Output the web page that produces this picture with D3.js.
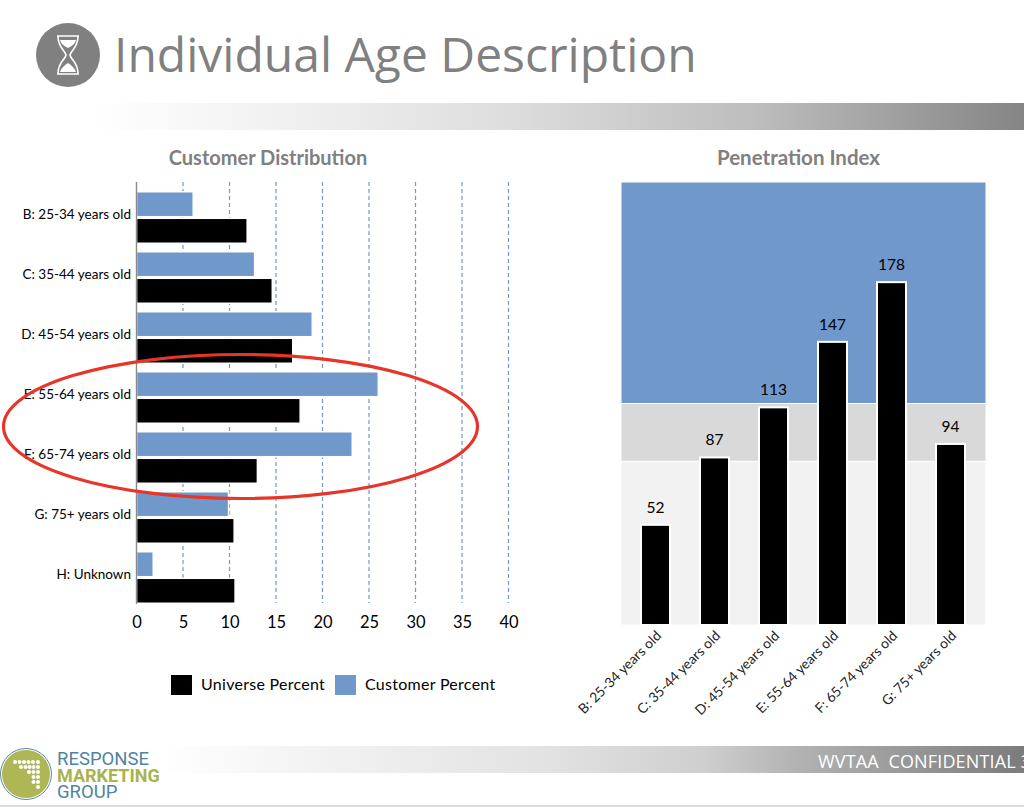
<!DOCTYPE html>
<html>
<head>
<meta charset="utf-8">
<script src="https://d3js.org/d3.v7.min.js"></script>
<style>
    html, body { margin: 0; padding: 0; background: #fff; }
    svg { display: block; }
    text { font-family: Lato, "Open Sans", sans-serif; }
</style>
</head>
<body>
<svg id="slide" width="1024" height="807"></svg>
<script>
// customer distribution
var distCategories = ["B: 25-34 years old", "C: 35-44 years old", "D: 45-54 years old", "E: 55-64 years old", "F: 65-74 years old", "G: 75+ years old", "H: Unknown"];
var customerPercent = [6.1, 12.7, 18.9, 26.0, 23.2, 9.9, 1.8];
var universePercent = [11.9, 14.6, 16.8, 17.6, 13.0, 10.5, 10.6];
var distTicks = [0, 5, 10, 15, 20, 25, 30, 35, 40];

// penetration index
var indexCategories = ["B: 25-34 years old", "C: 35-44 years old", "D: 45-54 years old", "E: 55-64 years old", "F: 65-74 years old", "G: 75+ years old"];
var indexValues = [52, 87, 113, 147, 178, 94];
var indexBandTops = [85, 115, 230];

var blue = "#7098cb";
var svg = d3.select("#slide");
var defs = svg.append("defs");

function grayGradient(id, stops) {
    var g = defs.append("linearGradient").attr("id", id);
    stops.forEach(function (s) {
        g.append("stop").attr("offset", s[0]).attr("stop-color", s[1]);
    });
}
grayGradient("headerBar", [[0, "#ffffff"], [0.27, "#ececec"], [0.44, "#dedede"], [0.72, "#bcbcbc"], [1, "#858585"]]);
grayGradient("footerBar", [[0, "#ffffff"], [0.16, "#f4f4f4"], [0.45, "#e2e2e2"], [0.63, "#cfcfcf"], [0.74, "#b2b2b2"], [1, "#7c7c7c"]]);

// slide header
svg.append("circle").attr("cx", 68).attr("cy", 55).attr("r", 32).attr("fill", "#808080");
var glass = svg.append("g").attr("fill", "none").attr("stroke", "#fff").attr("stroke-width", 1.6);
glass.append("path").attr("d", "M57 36 H79 M57 74 H79 M58 36 C58 48 65 50 66 55 C65 60 58 62 58 74 M78 36 C78 48 71 50 70 55 C71 60 78 62 78 74");
svg.append("path").attr("d", "M60 40 H76 C75 44 72 46 68 48 C64 46 61 44 60 40 Z M60 72 C62 67 65 65 68 63 C71 65 74 67 76 72 Z").attr("fill", "#fff");

svg.append("text").attr("x", 114).attr("y", 72)
    .style("font-family", "'Open Sans'").style("font-size", "48px").attr("fill", "#808080")
    .text("Individual Age Description");

svg.append("rect").attr("x", 92).attr("y", 103).attr("width", 932).attr("height", 27).attr("fill", "url(#headerBar)");

// left chart
var distX = d3.scaleLinear().domain([0, 40]).range([136.5, 508.5]);
var distY = d3.scaleBand().domain(distCategories).range([187.5, 607.5]);
var innerBand = d3.scaleBand().domain(["customer", "universe"]).range([0, distY.bandwidth()]).paddingInner(0.06).paddingOuter(0.16);

svg.append("text").attr("x", 268).attr("y", 165).attr("text-anchor", "middle")
    .style("font-size", "20px").style("font-weight", 700).attr("fill", "#808080")
    .text("Customer Distribution");

svg.append("g").selectAll("line")
    .data(distTicks.slice(1))
    .enter().append("line")
    .attr("x1", function (d) { return distX(d); })
    .attr("x2", function (d) { return distX(d); })
    .attr("y1", 182).attr("y2", 603)
    .attr("stroke", "#7098cb").attr("stroke-width", 1.2).attr("stroke-dasharray", "4 3");

var rows = svg.append("g").selectAll("g")
    .data(distCategories)
    .enter().append("g")
    .attr("transform", function (d) { return "translate(0," + distY(d) + ")"; });

rows.append("rect")
    .attr("x", distX(0))
    .attr("y", innerBand("customer"))
    .attr("width", function (d, i) { return distX(customerPercent[i]) - distX(0); })
    .attr("height", innerBand.bandwidth())
    .attr("fill", blue).attr("stroke", "#fff").attr("stroke-width", 1.5);

rows.append("rect")
    .attr("x", distX(0))
    .attr("y", innerBand("universe"))
    .attr("width", function (d, i) { return distX(universePercent[i]) - distX(0); })
    .attr("height", innerBand.bandwidth())
    .attr("fill", "#000").attr("stroke", "#fff").attr("stroke-width", 1.5);

var distLeft = svg.append("g").attr("transform", "translate(136,0)")
    .call(d3.axisLeft(distY).tickSize(0).tickPadding(5));
distLeft.select(".domain").remove();
distLeft.selectAll("text").attr("y", -2.5).style("font-size", "13.5px").style("font-family", "Lato").attr("fill", "#000");
svg.append("line").attr("x1", 136.5).attr("x2", 136.5).attr("y1", 182).attr("y2", 604)
    .attr("stroke", "#8c8c8c").attr("stroke-width", 1.4);

var distBottom = svg.append("g").attr("transform", "translate(0,603)")
    .call(d3.axisBottom(distX).tickValues(distTicks).tickSize(0).tickPadding(13));
distBottom.select(".domain").remove();
distBottom.selectAll("text").style("font-size", "16.5px").style("font-family", "Lato").attr("fill", "#000");

// legend
var legendItems = [["Universe Percent", "#000", 171, 201], ["Customer Percent", blue, 335, 365]];
legendItems.forEach(function (item) {
    svg.append("rect").attr("x", item[2]).attr("y", 675).attr("width", 21).attr("height", 20).attr("fill", item[1]);
    svg.append("text").attr("x", item[3]).attr("y", 690)
        .style("font-size", "16px").style("letter-spacing", "0.28px").attr("fill", "#000").text(item[0]);
});

// right chart
var indexX = d3.scaleBand().domain(indexCategories).range([626, 980]);
var indexY = d3.scaleLinear().domain([0, 230]).range([625, 182]);
var barWidth = 29;

svg.append("text").attr("x", 798.5).attr("y", 165).attr("text-anchor", "middle")
    .style("font-size", "20.5px").style("font-weight", 700).attr("fill", "#808080")
    .text("Penetration Index");

var bandColors = ["#f2f2f2", "#d9d9d9", blue];
svg.append("g").selectAll("rect")
    .data(indexBandTops)
    .enter().append("rect")
    .attr("x", 621).attr("width", 365)
    .attr("y", function (d) { return indexY(d); })
    .attr("height", function (d, i) { return indexY(i ? indexBandTops[i - 1] : 0) - indexY(d); })
    .attr("fill", function (d, i) { return bandColors[i]; })
    .attr("stroke", "#fff").attr("stroke-width", 1);

svg.append("g").selectAll("rect")
    .data(indexValues)
    .enter().append("rect")
    .attr("x", function (d, i) { return indexX(indexCategories[i]) + (indexX.bandwidth() - barWidth) / 2; })
    .attr("y", function (d) { return indexY(d); })
    .attr("width", barWidth)
    .attr("height", function (d) { return indexY(0) - indexY(d); })
    .attr("fill", "#000").attr("stroke", "#fff").attr("stroke-width", 2);

svg.append("g").selectAll("text")
    .data(indexValues)
    .enter().append("text")
    .attr("x", function (d, i) { return indexX(indexCategories[i]) + indexX.bandwidth() / 2; })
    .attr("y", function (d) { return indexY(d) - 12; })
    .attr("text-anchor", "middle")
    .style("font-size", "15.5px").attr("fill", "#000")
    .text(function (d) { return d; });

var indexBottom = svg.append("g").attr("transform", "translate(0,625)")
    .call(d3.axisBottom(indexX).tickSize(0));
indexBottom.select(".domain").remove();
indexBottom.selectAll("text")
    .attr("text-anchor", "end")
    .attr("dx", 0).attr("dy", 0).attr("y", 0).attr("x", 0)
    .attr("transform", "translate(1,6) rotate(-45) translate(0,8)")
    .style("font-size", "13.8px").style("font-family", "Lato").attr("fill", "#222");

// footer
svg.append("rect").attr("x", 158).attr("y", 746).attr("width", 866).attr("height", 27).attr("fill", "url(#footerBar)");
svg.append("text").attr("x", 818).attr("y", 768)
    .style("font-family", "'Open Sans'").style("font-size", "18px").style("white-space", "pre").style("letter-spacing", "0.15px").attr("fill", "#fff")
    .text("WVTAA  CONFIDENTIAL 3");
svg.append("rect").attr("x", 0).attr("y", 805).attr("width", 1024).attr("height", 2).attr("fill", "#dcdcdc");

// logo
svg.append("circle").attr("cx", 26).attr("cy", 774).attr("r", 24.5).attr("fill", "#aeb655").attr("stroke", "#fff").attr("stroke-width", 1);
svg.append("circle").attr("cx", 26).attr("cy", 774).attr("r", 25.5).attr("fill", "none").attr("stroke", "#5b8ba6").attr("stroke-width", 1);
var logoDots = [[15, 762], [19.5, 762], [24, 762], [28.5, 762], [33, 762], [38, 762], [21, 767], [25.5, 767], [29.5, 767], [33.5, 767], [38, 767], [29, 772], [33.5, 772], [38, 772], [33.5, 777], [38, 777], [33.5, 782], [38, 782], [38, 787]];
svg.append("g").selectAll("circle")
    .data(logoDots)
    .enter().append("circle")
    .attr("cx", function (d) { return d[0]; })
    .attr("cy", function (d) { return d[1]; })
    .attr("r", 2).attr("fill", "#fff");
var logoLines = [["RESPONSE", "#4f84a1", 400, 765, 18.5], ["MARKETING", "#a9b34c", 700, 781.7, 18], ["GROUP", "#4f84a1", 400, 798, 18.5]];
logoLines.forEach(function (l) {
    svg.append("text").attr("x", 57).attr("y", l[3])
        .style("font-family", "Roboto").style("font-size", l[4] + "px").style("font-weight", l[2]).attr("fill", l[1])
        .text(l[0]);
});

// red marker ellipse drawn over the chart
svg.append("ellipse").attr("cx", 240.5).attr("cy", 426.5).attr("rx", 237).attr("ry", 72)
    .attr("fill", "none").attr("stroke", "#e8352a").attr("stroke-width", 3.2);
</script>
</body>
</html>
